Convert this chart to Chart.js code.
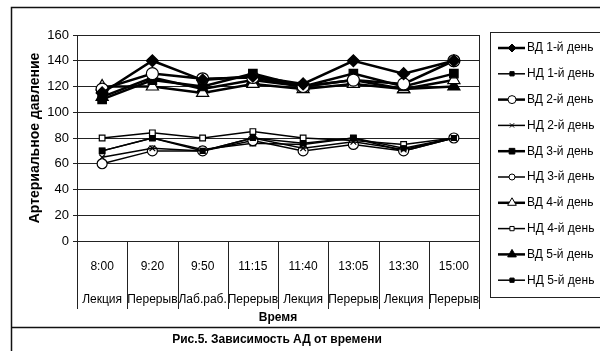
<!DOCTYPE html>
<html>
<head>
<meta charset="utf-8">
<script src="https://cdn.jsdelivr.net/npm/chart.js@4/dist/chart.umd.min.js"></script>
<style>
  html, body { margin: 0; padding: 0; background: #fff; }
  #wrap { width: 600px; height: 351px; }
</style>
</head>
<body>
<div id="wrap"><canvas id="bpChart" width="600" height="351"></canvas></div>
<script>
// Данные
const times = ['8:00', '9:20', '9:50', '11:15', '11:40', '13:05', '13:30', '15:00'];
const activities = ['Лекция', 'Перерыв', 'Лаб.раб.', 'Перерыв', 'Лекция', 'Перерыв', 'Лекция', 'Перерыв'];

const vd1 = [115, 140, 125, 128, 122, 140, 130, 140];
const nd1 = [70, 80, 70, 80, 76, 80, 72, 80];
const vd2 = [118, 130, 126, 127, 120, 125, 122, 140];
const nd2 = [65, 72, 70, 80, 72, 77, 71, 80];
const vd3 = [110, 125, 120, 130, 120, 130, 120, 130];
const nd3 = [60, 70, 70, 78, 70, 75, 70, 80];
const vd4 = [120, 120, 115, 122, 118, 122, 118, 125];
const nd4 = [80, 84, 80, 85, 80, 78, 75, 80];
const vd5 = [112, 127, 118, 125, 120, 125, 118, 120];
const nd5 = [70, 80, 71, 76, 75, 80, 70, 80];

const yTicks = [0, 20, 40, 60, 80, 100, 120, 140, 160];

const BLACK = '#000';
const WHITE = '#fff';

function series(label, data, style, radius, filled, width) {
    return {
        label: label,
        data: data,
        borderColor: BLACK,
        borderWidth: width,
        pointStyle: style,
        pointRadius: radius,
        pointBorderWidth: 1.2,
        pointBorderColor: BLACK,
        pointBackgroundColor: filled ? BLACK : WHITE,
        tension: 0,
        fill: false
    };
}

const datasets = [
    series('ВД 1-й день', vd1, 'rectRot', 6, true, 2.5),
    series('НД 1-й день', nd1, 'rect', 3.5, true, 1.5),
    series('ВД 2-й день', vd2, 'circle', 6, false, 2.5),
    series('НД 2-й день', nd2, 'crossRot', 4, false, 1.5),
    series('ВД 3-й день', vd3, 'rect', 6, true, 2.5),
    series('НД 3-й день', nd3, 'circle', 5, false, 1.5),
    series('ВД 4-й день', vd4, 'triangle', 7, false, 2.5),
    series('НД 4-й день', nd4, 'rect', 4, false, 1.5),
    series('ВД 5-й день', vd5, 'triangle', 7, true, 2.5),
    series('НД 5-й день', nd5, 'rect', 4, true, 1.5)
];

// Рамки, разделители подписей, легенда
const framePlugin = {
    id: 'frame',
    beforeDraw(chart) {
        const ctx = chart.ctx;
        ctx.save();
        ctx.fillStyle = WHITE;
        ctx.fillRect(0, 0, chart.width, chart.height);
        ctx.restore();
    },
    afterDraw(chart) {
        const ctx = chart.ctx;
        const area = chart.chartArea;
        const x = chart.scales.x;
        ctx.save();

        // внешняя рамка и линия подписи рисунка
        ctx.strokeStyle = '#111';
        ctx.lineWidth = 1.5;
        ctx.strokeRect(11.5, 7.5, 600, 360);
        ctx.beginPath();
        ctx.moveTo(11.5, 327.5);
        ctx.lineTo(600, 327.5);
        ctx.stroke();

        // правая граница области построения
        ctx.lineWidth = 1;
        ctx.strokeStyle = '#222';
        ctx.beginPath();
        ctx.moveTo(area.right + 0.5, area.top);
        ctx.lineTo(area.right + 0.5, area.bottom);
        ctx.stroke();

        // разделители категорий под осью
        const n = times.length;
        const bounds = [area.left];
        for (let i = 0; i < n - 1; i++) {
            bounds.push((x.getPixelForValue(i) + x.getPixelForValue(i + 1)) / 2);
        }
        bounds.push(area.right);
        ctx.strokeStyle = '#222';
        ctx.lineWidth = 1;
        bounds.forEach(b => {
            const bx = Math.round(b) + 0.5;
            ctx.beginPath();
            ctx.moveTo(bx, area.bottom);
            ctx.lineTo(bx, 309);
            ctx.stroke();
        });

        // подпись рисунка
        ctx.fillStyle = BLACK;
        ctx.font = 'bold 12px "Liberation Sans", Arial, sans-serif';
        ctx.textAlign = 'center';
        ctx.textBaseline = 'middle';
        ctx.fillText('Рис.5. Зависимость АД от времени', 277, 340);

        // легенда
        const lx = 490.5, ly = 32.5, lw = 110, lh = 265;
        ctx.strokeStyle = '#222';
        ctx.lineWidth = 1;
        ctx.strokeRect(lx, ly, lw, lh);
        ctx.font = '12px "Liberation Sans", Arial, sans-serif';
        ctx.textAlign = 'left';
        chart.data.datasets.forEach((ds, i) => {
            const cy = 48 + i * 25.8;
            ctx.strokeStyle = BLACK;
            ctx.lineWidth = ds.borderWidth;
            ctx.beginPath();
            ctx.moveTo(498, cy);
            ctx.lineTo(525, cy);
            ctx.stroke();
            if (Chart.helpers && Chart.helpers.drawPoint) {
                ctx.fillStyle = ds.pointBackgroundColor;
                ctx.strokeStyle = BLACK;
                ctx.lineWidth = 1;
                Chart.helpers.drawPoint(ctx, {
                    pointStyle: ds.pointStyle,
                    radius: Math.max(3, ds.pointRadius - 2),
                    rotation: 0,
                    borderWidth: 1
                }, 512, cy);
            }
            ctx.fillStyle = BLACK;
            ctx.fillText(ds.label, 527, cy);
        });

        ctx.restore();
    }
};

const ctx = document.getElementById('bpChart').getContext('2d');
const bpChart = new Chart(ctx, {
    type: 'line',
    data: {
        labels: times.map((t, i) => [t, activities[i]]),
        datasets: datasets
    },
    options: {
        responsive: false,
        animation: false,
        devicePixelRatio: 1,
        layout: {
            padding: { left: 20, top: 35, right: 121, bottom: 26 }
        },
        plugins: {
            legend: { display: false },
            tooltip: { enabled: false }
        },
        scales: {
            x: {
                type: 'category',
                offset: true,
                afterFit: s => { s.height = 84; },
                grid: { display: false },
                border: { display: true, color: '#222', width: 1 },
                ticks: {
                    color: BLACK,
                    padding: 1.5,
                    maxRotation: 0,
                    autoSkip: false,
                    font: { family: '"Liberation Sans", Arial, sans-serif', size: 12, lineHeight: 2.75 }
                },
                title: {
                    display: true,
                    text: 'Время',
                    color: BLACK,
                    padding: 0,
                    font: { family: '"Liberation Sans", Arial, sans-serif', size: 12, weight: 'bold', lineHeight: 1.2 }
                }
            },
            y: {
                min: 0,
                max: 160,
                afterFit: s => { s.width = 57; },
                afterBuildTicks: s => { s.ticks = yTicks.map(v => ({ value: v })); },
                grid: { color: '#222', lineWidth: 1, tickLength: 4, drawTicks: true },
                border: { display: true, color: '#222', width: 1 },
                ticks: {
                    color: BLACK,
                    padding: 4,
                    font: { family: '"Liberation Sans", Arial, sans-serif', size: 13 }
                },
                title: {
                    display: true,
                    text: 'Артериальное давление',
                    color: BLACK,
                    padding: { top: 7, bottom: 0 },
                    font: { family: '"Liberation Sans", Arial, sans-serif', size: 14, weight: 'bold', lineHeight: 1.2 }
                }
            }
        }
    },
    plugins: [framePlugin]
});
</script>
</body>
</html>
